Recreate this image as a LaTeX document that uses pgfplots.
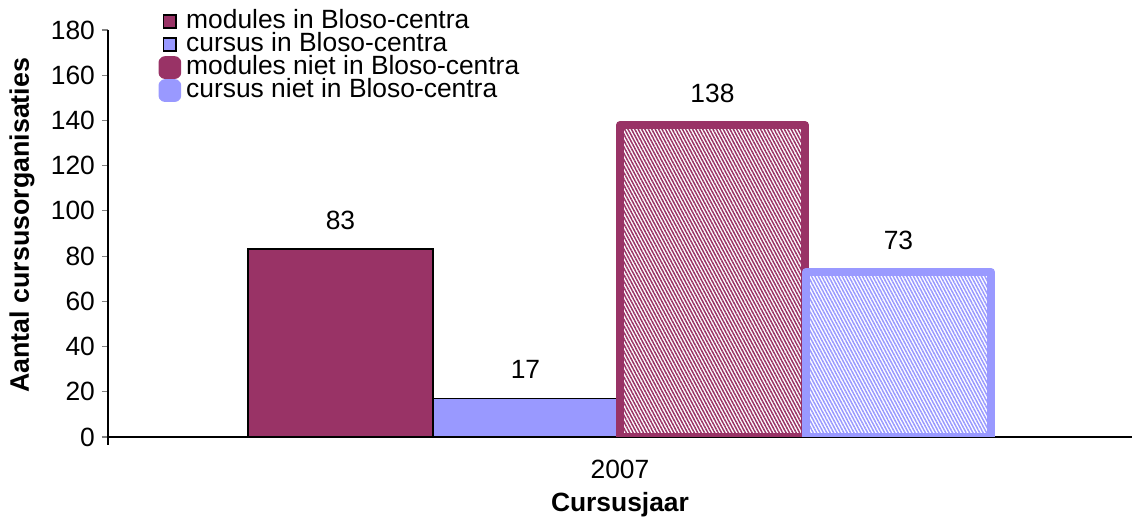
\documentclass[border=0pt]{standalone}
\usepackage{pgfplots}
\pgfplotsset{compat=1.18}
\usetikzlibrary{patterns.meta}
\usepackage{fontspec}
\setmainfont{Liberation Sans}
\definecolor{bord}{HTML}{993366}
\definecolor{lav}{HTML}{9999FF}
\begin{document}
\begin{tikzpicture}
\begin{axis}[
 at={(0,0)}, anchor=south west,
 scale only axis, width=512pt, height=203.5pt,
 xmin=108, xmax=1132, ymin=0, ymax=180,
 ybar, bar width=185,
 axis x line=bottom, axis y line=left,
 axis line style={-, black, line width=0.6pt},
 ytick={0,20,...,180}, tick align=outside, major tick length=3pt,
 ytick style={black!50, line width=0.6pt},
 xtick={620}, xticklabels={2007}, xtick style={draw=none},
 xticklabel style={yshift=-5pt},
 tick label style={font=\fontsize{13.2}{15}\selectfont},
 /pgf/number format/assume math mode=true,
 xlabel={\textbf{Cursusjaar}},
 xlabel style={at={(axis description cs:0.5,-0.167)}, anchor=center, font=\fontsize{13.2}{15}\selectfont},
 ylabel={\textbf{Aantal cursusorganisaties}},
 ylabel style={at={(axis description cs:-0.084,0.52)}, anchor=center, rotate=0, font=\fontsize{13.4}{15}\selectfont},
 legend style={at={(axis description cs:0.049,1.05)}, anchor=north west, draw=none, fill=none, inner sep=0pt,
   font=\fontsize{13.2}{13}\selectfont, row sep=0pt, column sep=2.5pt,
   nodes={inner sep=0pt, text height=9pt, text depth=2.5pt}},
 legend cell align=left,
 nodes near coords,
 nodes near coords style={font=\fontsize{13.2}{15}\selectfont, black, anchor=south, yshift=6pt},
 clip=true,
]
\addplot[bar shift=0, fill=bord, draw=black, line width=0.9pt,
  legend image code/.code={\draw[fill=bord, draw=black, line width=0.9pt] (0pt,-3.2pt) rectangle (6.4pt,3.2pt);}]
  coordinates {(340.5,83)};
\addlegendentry{modules in Bloso-centra}
\addplot[bar shift=0, fill=lav, draw=black, line width=0.9pt,
  legend image code/.code={\draw[fill=lav, draw=black, line width=0.9pt] (0pt,-3.2pt) rectangle (6.4pt,3.2pt);}]
  coordinates {(525.5,17)};
\addlegendentry{cursus in Bloso-centra}
\addplot[bar shift=0, draw=bord, line width=4pt, line join=round,
  pattern={Lines[angle=-62,distance=1.5pt,line width=0.75pt]}, pattern color=bord,
  legend image code/.code={\fill[bord, rounded corners=1pt] (-0.45pt,-3.65pt) rectangle (6.85pt,3.65pt);}]
  coordinates {(712.5,138)};
\addlegendentry{modules niet in Bloso-centra}
\addplot[bar shift=0, draw=lav, line width=4pt, line join=round,
  pattern={Lines[angle=-62,distance=1.5pt,line width=0.75pt]}, pattern color=lav,
  legend image code/.code={\fill[lav, rounded corners=1pt] (-0.45pt,-3.65pt) rectangle (6.85pt,3.65pt);}]
  coordinates {(898.5,73)};
\addlegendentry{cursus niet in Bloso-centra}
\end{axis}
\draw[black, line width=0.6pt] (0pt,0pt) -- ++(0pt,-4pt);
\pgfresetboundingbox
\path[use as bounding box] (-54pt,-41.5pt) rectangle (512pt,218.5pt);
\end{tikzpicture}
\end{document}
